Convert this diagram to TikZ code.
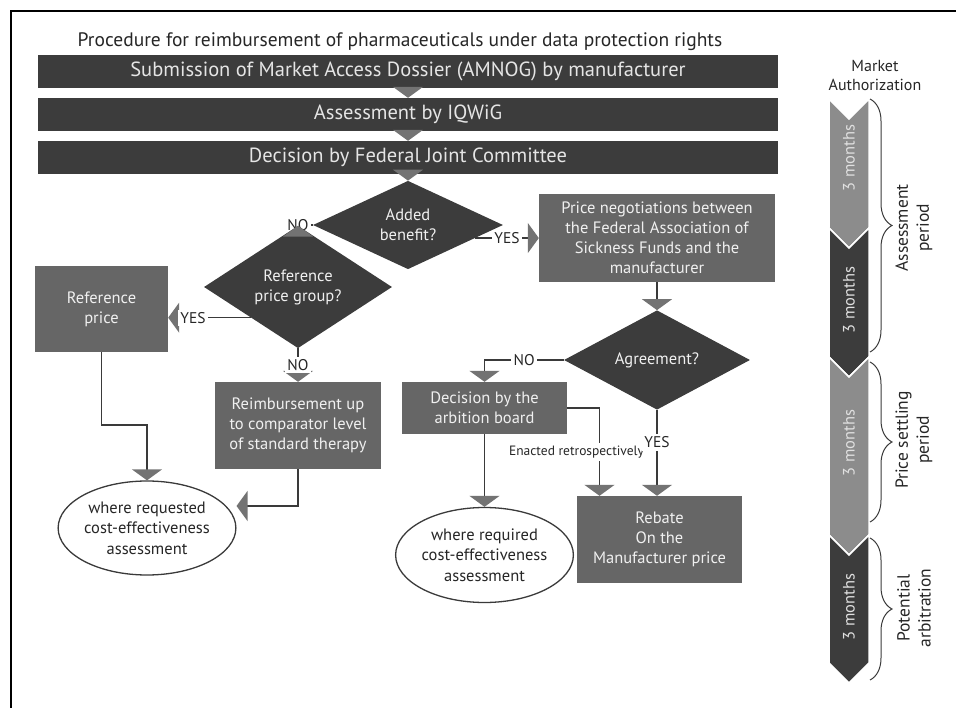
\documentclass[tikz,border=0pt]{standalone}
\usepackage{fontspec}
\setmainfont{PT Sans}
\usetikzlibrary{shapes.geometric}
\usetikzlibrary{arrows.meta}
\usetikzlibrary{decorations.pathreplacing}
\definecolor{bardark}{HTML}{3C3C3C}
\definecolor{boxgray}{HTML}{666666}
\definecolor{tipgray}{HTML}{737373}
\definecolor{chevlight}{HTML}{8C8C8C}
\definecolor{linegray}{HTML}{3A3A3A}

\begin{document}
\begin{tikzpicture}
      [
        x=1pt,y=1pt,
        bar/.style={fill=bardark,text=white!90!black,minimum width=740pt,minimum height=33pt,inner sep=0pt,font=\fontsize{20.5}{22}\selectfont},
        box/.style={fill=boxgray,text=white!94!black,align=center,inner sep=0pt,font=\fontsize{16.5}{20}\selectfont},
        dec/.style={diamond,fill=bardark,text=white!94!black,align=center,inner sep=0pt,font=\fontsize{16.5}{20}\selectfont},
        ell/.style={ellipse,draw=linegray,line width=1.3pt,fill=white,text=black!85,align=center,inner sep=0pt,font=\fontsize{16.5}{20.5}\selectfont},
        arr/.style={draw=linegray,line width=1.5pt,-{Triangle[width=30pt,length=11pt,color=tipgray]}},
        lab/.style={fill=white,inner sep=2.5pt,text=black!85,font=\fontsize{15.5}{17}\selectfont},
        chev/.style={fill=#1,draw=white,line width=1.5pt},
        months/.style={rotate=90,text=white!88!black,font=\fontsize{16.5}{18}\selectfont},
        period/.style={rotate=90,align=center,text=black!85,font=\fontsize{17.5}{21}\selectfont},
        brace/.style={decorate,decoration={brace,amplitude=22pt},draw=linegray,line width=1pt}
      ]

      \useasboundingbox (0,0) rectangle (956,-708);
      \draw[line width=2.5pt] (11,-708) -- (11,-11) -- (956,-11);

      \node[text=black!85,font=\fontsize{19.5}{22}\selectfont] (Title) at (400,-42) {Procedure for reimbursement of pharmaceuticals under data protection rights};

      % main column
      \node[bar] (Dossier) at (408,-71.5) {Submission of Market Access Dossier (AMNOG) by manufacturer};
      \node[bar] (IQWiG) at (408,-114.5) {Assessment by IQWiG};
      \node[bar] (GBA) at (408,-157.5) {Decision by Federal Joint Committee};

      \node[dec,minimum width=190pt,minimum height=82pt] (Added) at (408,-225) {Added\\benefit?};
      \node[lab] (AddedNo) at (298,-225) {NO};
      \node[dec,minimum width=188pt,minimum height=80pt] (RefGroup) at (298,-287) {Reference\\price group?};
      \node[box,minimum width=133pt,minimum height=86pt] (RefPrice) at (101.5,-309) {Reference\\price};
      \node[box,minimum width=166pt,minimum height=87pt] (Reimb) at (298,-425.5) {Reimbursement up\\to comparator level\\of standard therapy};
      \node[ell,minimum width=176pt,minimum height=94pt] (EllReq) at (147,-528) {where requested\\cost-effectiveness\\assessment};

      % right branch
      \node[box,minimum width=236pt,minimum height=88pt] (PriceNeg) at (657,-238) {Price negotiations between\\the Federal Association of\\Sickness Funds and the\\manufacturer};
      \node[dec,minimum width=186pt,minimum height=82pt] (Agree) at (657,-360) {Agreement?};
      \node[box,minimum width=165pt,minimum height=52pt] (Arb) at (484.5,-408) {Decision by the\\arbition board};
      \node[ell,minimum width=166pt,minimum height=95pt] (EllReq2) at (484.5,-555) {where required\\cost-effectiveness\\assessment};
      \node[box,minimum width=165pt,minimum height=87pt] (Rebate) at (659.5,-539.5) {Rebate\\On the\\Manufacturer price};

      \draw[arr] (Dossier) -- (IQWiG);
      \draw[arr] (IQWiG) -- (GBA);
      \draw[arr] (GBA) -- (Added);
      \draw[linegray,line width=1.5pt] (Added.west) -- (AddedNo.east);
      \draw[arr] (AddedNo) -- (RefGroup);
      \draw[arr] (Added.-11) -- node[lab] {YES} (Added.-11 -| PriceNeg.west);
      \draw[arr] (RefGroup.south west) -- node[lab,pos=0.7] {YES} (RefGroup.south west -| RefPrice.east);
      \draw[arr] (RefGroup) -- node[lab] {NO} (Reimb);
      \draw[arr] (RefPrice.south) -- ++(0,-73) -| (EllReq.north);
      \draw[arr] (Reimb.south) |- ([yshift=22pt]EllReq.east);
      \draw[arr] (PriceNeg) -- (Agree);
      \draw[arr] (Agree.west) -| node[lab,pos=0.25] {NO} (Arb.north);
      \draw[arr] (Arb.east) -| node[lab,pos=0.75,xshift=-23pt,font=\fontsize{13.5}{15}\selectfont] {Enacted retrospectively} ([xshift=-60pt]Rebate.north);
      \draw[arr] (Agree.south) -- node[lab,pos=0.38] {YES} (Agree.south |- Rebate.north);
      \draw[arr] (Arb) -- (EllReq2);

      % time line
      \node[align=center,text=black!85,font=\fontsize{16}{19}\selectfont] (MA) at (875,-75) {Market\\Authorization};
      \foreach \top/\bot/\col in {99/228/chevlight,228/357/bardark,357/535/chevlight,535/663/bardark}
        \filldraw[chev=\col] (829,-\top) -- (849,-\top-20) -- (869,-\top) -- (869,-\bot) -- (849,-\bot-20) -- (829,-\bot) -- cycle;
      \node[months] (M1) at (849,-158) {3 months};
      \node[months] (M2) at (849,-300) {3 months};
      \node[months] (M3) at (849,-443) {3 months};
      \node[months] (M4) at (849,-607) {3 months};

      \draw[brace] (870,-99) -- (870,-352);
      \draw[brace] (870,-362) -- (870,-522);
      \draw[brace] (870,-538) -- (870,-680);
      \node[period] (P1) at (914,-228) {Assessment\\period};
      \node[period] (P2) at (914,-440) {Price settling\\period};
      \node[period] (P3) at (914,-608) {Potential\\arbitration};
    \end{tikzpicture}
\end{document}
